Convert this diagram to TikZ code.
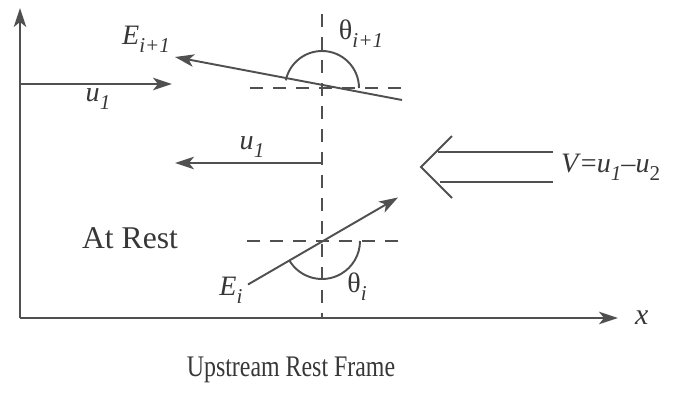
\documentclass[tikz,border=0pt]{standalone}
\usepackage{fontspec}
\setmainfont{Liberation Serif}
\newfontfamily\capfont[FakeStretch=0.8]{Liberation Serif}
\usetikzlibrary{arrows.meta, positioning}
\definecolor{inkgray}{RGB}{80,80,80}
\definecolor{textgray}{RGB}{55,55,55}
\newcommand{\lowidx}[1]{\raisebox{-0.28em}{\fontsize{12}{13}\selectfont #1}}

\begin{document}
\begin{tikzpicture}[
    every node/.style={font=\fontsize{16}{18}\selectfont, text=textgray, inner sep=1pt},
    >={Stealth[length=0.38cm, width=0.25cm, inset=0.1cm]},
    axis/.style={->, line width=1.2pt, draw=inkgray},
    arrow/.style={->, line width=1.1pt, draw=inkgray},
    dashline/.style={dash pattern=on 0.26cm off 0.2cm, line width=1.1pt, draw=inkgray},
    anglearc/.style={line width=1.1pt, draw=inkgray},
    plainline/.style={line width=1.1pt, draw=inkgray}
]
\useasboundingbox (0,0) rectangle (13.56,7.84);

% axes
\coordinate (origin) at (0.4,1.48);
\coordinate (ytip) at (0.4,7.68);
\coordinate (xtip) at (12.36,1.48);
\draw[axis] (origin) -- (ytip);
\draw[axis] (origin) -- (xtip);
\node (xlbl) [right=0.3cm of xtip, font=\itshape\fontsize{17}{19}\selectfont] {x};

% shock front
\coordinate (fronttop) at (6.44,7.56);
\coordinate (frontbot) at (6.44,1.48);
\draw[dashline] (fronttop) -- (frontbot);

% field vector after the front
\coordinate (ctop) at (6.44,6.08);
\coordinate (htopl) at (5.0,6.08);
\coordinate (htopr) at (8.04,6.08);
\draw[dashline] (htopl) -- (htopr);
\coordinate (etoptail) at (8.04,5.84);
\coordinate (etoptip) at (3.5,6.7);
\draw[arrow] (etoptail) -- (etoptip);
\draw[anglearc] ([shift={(0:0.74)}]ctop) arc[start angle=0, end angle=168, radius=0.74];
\node (etoplbl) at (2.92,7.06) {\textit{E}\lowidx{\textit{i+1}}};
\node (thtoplbl) at (7.22,7.16) {θ\lowidx{\textit{i+1}}};

% upstream flow
\coordinate (uonetail) at (0.4,6.16);
\coordinate (uonetip) at (3.44,6.16);
\draw[arrow] (uonetail) -- (uonetip);
\node (uonelbl) at (1.96,5.86) {\textit{u}\lowidx{\textit{1}}};

\coordinate (umidtail) at (6.44,4.58);
\coordinate (umidtip) at (3.5,4.58);
\draw[arrow] (umidtail) -- (umidtip);
\node (umidlbl) at (5.04,4.9) {\textit{u}\lowidx{\textit{1}}};

% frame velocity
\coordinate (vtopr) at (11.06,4.8);
\coordinate (vtopl) at (8.76,4.8);
\coordinate (vbotr) at (11.06,4.2);
\coordinate (vbotl) at (8.8,4.2);
\coordinate (vapex) at (8.42,4.5);
\coordinate (vheadup) at (9.04,5.12);
\coordinate (vheaddn) at (9.04,3.88);
\coordinate (vmid) at (11.06,4.5);
\draw[plainline] (vtopr) -- (vtopl);
\draw[plainline] (vbotr) -- (vbotl);
\draw[plainline] (vheadup) -- (vapex) -- (vheaddn);
\node (vlbl) [right=0.12cm of vmid] {\textit{V}=\textit{u}\lowidx{\textit{1}}–\textit{u}\lowidx{2}};

% field vector before the front
\coordinate (cbot) at (6.44,3.02);
\coordinate (hbotl) at (4.94,3.02);
\coordinate (hbotr) at (7.96,3.02);
\draw[dashline] (hbotl) -- (hbotr);
\coordinate (ebottail) at (4.96,2.15);
\coordinate (ebottip) at (7.96,3.89);
\draw[arrow] (ebottail) -- (ebottip);
\draw[anglearc] ([shift={(210:0.76)}]cbot) arc[start angle=210, end angle=360, radius=0.76];
\node (ebotlbl) at (4.62,2.04) {\textit{E}\lowidx{\textit{i}}};
\node (thbotlbl) at (7.14,2.1) {θ\lowidx{\textit{i}}};

\node (restlbl) at (2.6,3.08) {\fontsize{18}{20}\selectfont At Rest};
\node (caption) at (5.82,0.44) {\capfont\fontsize{17}{19}\selectfont Upstream Rest Frame};

\end{tikzpicture}
\end{document}
